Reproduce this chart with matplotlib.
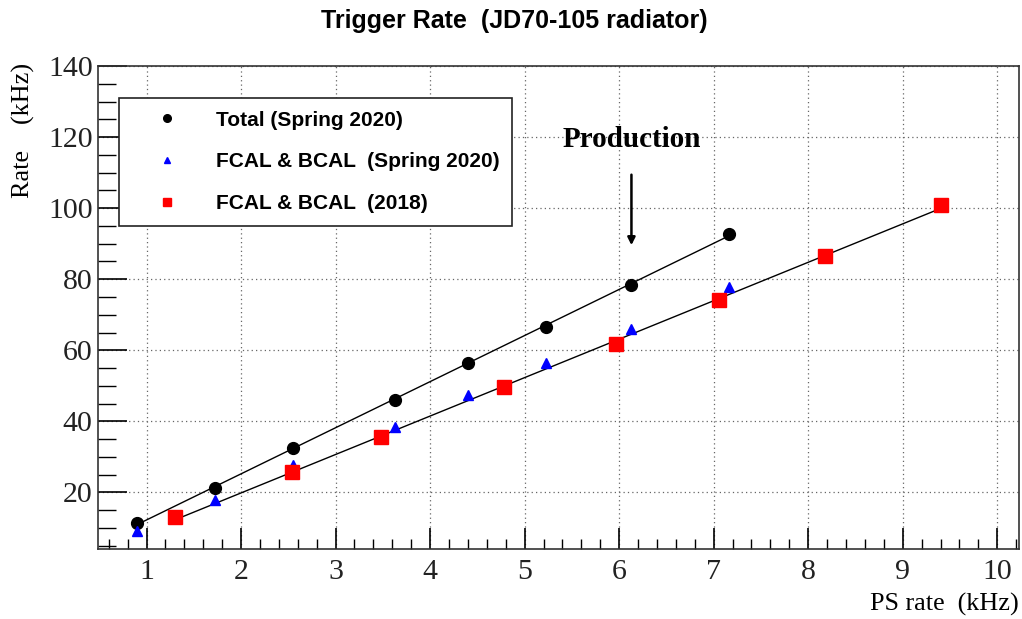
import matplotlib
matplotlib.use("Agg")
import matplotlib.pyplot as plt
import numpy as np
from matplotlib.lines import Line2D
from matplotlib.ticker import MultipleLocator

# dati
ps_total = [0.90, 1.72, 2.55, 3.63, 4.40, 5.23, 6.13, 7.16]
rate_total = [11.3, 21.4, 32.6, 46.1, 56.5, 66.7, 78.5, 92.8]

ps_cal20 = [0.90, 1.72, 2.55, 3.63, 4.40, 5.23, 6.13, 7.16]
rate_cal20 = [9.3, 17.8, 27.6, 38.5, 47.3, 56.3, 66.1, 77.9]

ps_cal18 = [1.30, 2.54, 3.48, 4.78, 5.97, 7.06, 8.18, 9.41]
rate_cal18 = [13.0, 25.9, 35.5, 49.8, 61.9, 74.3, 86.6, 101.0]

legend_labels = ["Total (Spring 2020)", "FCAL & BCAL  (Spring 2020)", "FCAL & BCAL  (2018)"]
production_ps = 6.13

serif = "Liberation Serif"
sans = "Liberation Sans"

fig = plt.figure(figsize=(10.22, 6.19), dpi=100)
ax = fig.add_axes([98.3 / 1022, 1 - 549 / 619, (1019 - 98.3) / 1022, (549 - 66) / 619])

# rette di fit
for xs, ys in [(ps_total, rate_total), (ps_cal18, rate_cal18)]:
    p = np.polyfit(xs, ys, 1)
    xx = np.array([min(xs), max(xs)])
    ax.plot(xx, np.polyval(p, xx), color="black", lw=1.0, zorder=2)

ax.plot(ps_total, rate_total, "o", color="black", ms=8.5, zorder=3)
ax.plot(ps_cal20, rate_cal20, "^", color="blue", ms=7.5, zorder=3)
ax.plot(ps_cal18, rate_cal18, "s", color="red", ms=9.5, zorder=3)

ax.set_xlim(0.49, 10.23)
ax.set_ylim(4.1, 140)
ax.xaxis.set_major_locator(MultipleLocator(1))
ax.xaxis.set_minor_locator(MultipleLocator(0.2))
ax.yaxis.set_major_locator(MultipleLocator(20))
ax.yaxis.set_minor_locator(MultipleLocator(5))
ax.set_yticks(np.arange(20, 141, 20))
ax.set_xticks(np.arange(1, 11, 1))

ax.tick_params(axis="x", which="major", direction="in", length=15, width=1.2, pad=7)
ax.tick_params(axis="x", which="minor", direction="in", length=7, width=1.0)
ax.tick_params(axis="y", which="major", direction="in", length=21, width=1.2, pad=4)
ax.tick_params(axis="y", which="minor", direction="in", length=13, width=1.0)
for lab in ax.get_xticklabels() + ax.get_yticklabels():
    lab.set_fontfamily(serif)
    lab.set_fontsize(21.5)
    lab.set_color("#222222")
for s in ax.spines.values():
    s.set_linewidth(1.2)
    s.set_color("#333333")

ax.grid(True, which="major", linestyle=(0, (1, 2.5)), color="#666666", lw=0.9)
ax.set_axisbelow(True)

# freccia "Production"
ax.annotate("", xy=(production_ps, 88.8), xytext=(production_ps, 110.2),
            arrowprops=dict(arrowstyle="-|>", color="black", lw=1.8, mutation_scale=11))
ax.text(production_ps, 117.2, "Production", family=serif, fontweight="bold",
        fontsize=21, ha="center", va="baseline")

handles = [
    Line2D([], [], marker="o", color="black", ls="none", ms=5.5),
    Line2D([], [], marker="^", color="blue", ls="none", ms=5),
    Line2D([], [], marker="s", color="red", ls="none", ms=6),
]
leg = ax.legend(handles, legend_labels, loc="upper left",
                bbox_to_anchor=(119 / 1022, 1 - 98 / 619), bbox_transform=fig.transFigure,
                prop=dict(family=sans, weight="bold", size=15), frameon=True, fancybox=False,
                edgecolor="#222222", framealpha=1, borderpad=0.6, handlelength=3.4,
                handletextpad=0.65, labelspacing=1.1, borderaxespad=0)
leg.get_frame().set_linewidth(1.2)

fig.text(514 / 1022, 1 - 21 / 619, "Trigger Rate  (JD70-105 radiator)", family=sans,
         fontweight="bold", fontsize=18, ha="center", va="center")
fig.text(23 / 1022, 1 - 63 / 619, "Rate    (kHz)", family=serif, fontsize=18.8,
         rotation=90, ha="center", va="top")
fig.text(1019 / 1022, 1 - 616 / 619, "PS rate  (kHz)", family=serif, fontsize=18.8,
         ha="right", va="bottom")

fig.savefig("out.png", dpi=100)
